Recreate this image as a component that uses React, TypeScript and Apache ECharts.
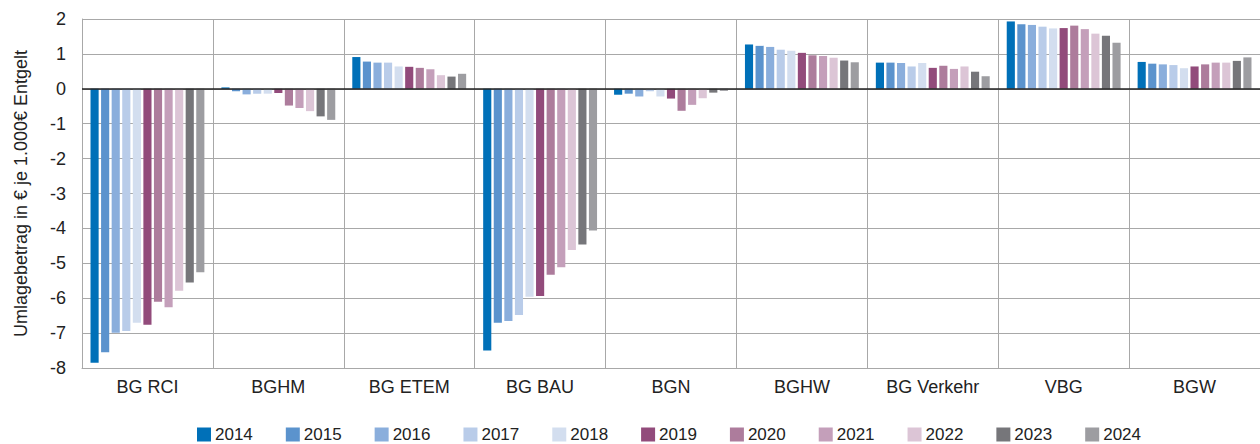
import React, { useEffect, useRef } from "react";
import * as echarts from "echarts";

const categories = ["BG RCI", "BGHM", "BG ETEM", "BG BAU", "BGN", "BGHW", "BG Verkehr", "VBG", "BGW"];
const years = ["2014", "2015", "2016", "2017", "2018", "2019", "2020", "2021", "2022", "2023", "2024"];
const colors = ["#0070b8", "#5b93cd", "#8aaedc", "#b9cce9", "#d3deef", "#924b7b", "#ad7c9c", "#c49fba", "#dcc5d6", "#76767a", "#9d9da1"];

// values per year, in category order
const v2014 = [-7.85, 0.04, 0.91, -7.5, -0.17, 1.27, 0.75, 1.93, 0.77];
const v2015 = [-7.55, -0.07, 0.78, -6.7, -0.14, 1.23, 0.75, 1.85, 0.72];
const v2016 = [-6.99, -0.16, 0.75, -6.65, -0.22, 1.2, 0.74, 1.83, 0.7];
const v2017 = [-6.94, -0.14, 0.75, -6.48, -0.07, 1.12, 0.64, 1.78, 0.68];
const v2018 = [-6.7, -0.14, 0.64, -5.96, -0.22, 1.09, 0.74, 1.73, 0.59];
const v2019 = [-6.76, -0.12, 0.63, -5.94, -0.28, 1.03, 0.6, 1.74, 0.64];
const v2020 = [-6.1, -0.48, 0.6, -5.33, -0.63, 0.96, 0.66, 1.81, 0.7];
const v2021 = [-6.26, -0.55, 0.56, -5.11, -0.46, 0.94, 0.57, 1.71, 0.75];
const v2022 = [-5.79, -0.64, 0.39, -4.62, -0.27, 0.89, 0.64, 1.58, 0.75];
const v2023 = [-5.55, -0.79, 0.35, -4.46, -0.11, 0.81, 0.49, 1.52, 0.8];
const v2024 = [-5.26, -0.89, 0.43, -4.06, -0.06, 0.76, 0.36, 1.32, 0.9];
const values = [v2014, v2015, v2016, v2017, v2018, v2019, v2020, v2021, v2022, v2023, v2024];

const yTicks = { min: -8, max: 2, interval: 1 };
const yName = "Umlagebetrag in € je 1.000€ Entgelt";

const FONT = "'Liberation Sans', Arial, Helvetica, sans-serif";
const TEXT = "#222";
const GRID = "#a8a8a8";

export default function App() {
  const ref = useRef<HTMLDivElement>(null);
  useEffect(() => {
    if (!ref.current) return;
    const chart = echarts.init(ref.current, undefined, { renderer: "svg" });
    const series: any[] = years.map((y, i) => ({
      name: y,
      type: "bar",
      data: values[i],
      barGap: "30%",
      barCategoryGap: "13%",
      itemStyle: { color: colors[i] },
      ...(i === 0
        ? {
            markLine: {
              silent: true,
              symbol: "none",
              label: { show: false },
              lineStyle: { color: "#222", type: "solid", width: 1.5 },
              data: [{ yAxis: 0 }],
            },
          }
        : {}),
    }));
    chart.setOption({
      animation: false,
      textStyle: { fontFamily: FONT },
      grid: { left: 82, right: -11, top: 19, bottom: 76, containLabel: false },
      legend: {
        data: years,
        left: 197,
        top: 426,
        padding: 0,
        itemWidth: 14,
        itemHeight: 14,
        itemGap: 33,
        icon: "rect",
        textStyle: { fontSize: 17, lineHeight: 17, color: TEXT, fontFamily: FONT, padding: [0, 0, 0, -1] },
      },
      xAxis: {
        type: "category",
        data: categories,
        axisLine: { onZero: false, lineStyle: { color: GRID, width: 1 } },
        axisTick: { show: false },
        axisLabel: { fontSize: 18, color: TEXT, margin: 10, fontFamily: FONT, interval: 0 },
        splitLine: { show: true, interval: 0, lineStyle: { color: GRID, width: 1 } },
      },
      yAxis: {
        type: "value",
        min: yTicks.min,
        max: yTicks.max,
        interval: yTicks.interval,
        name: yName,
        nameLocation: "middle",
        nameGap: 52,
        nameTextStyle: { fontSize: 18, color: TEXT, fontFamily: FONT },
        axisLine: { show: true, lineStyle: { color: GRID, width: 1 } },
        axisTick: { show: false },
        axisLabel: { fontSize: 18, color: TEXT, margin: 16, fontFamily: FONT },
        splitLine: { show: true, lineStyle: { color: GRID, width: 1 } },
      },
      series,
    });
    return () => chart.dispose();
  }, []);
  return (
    <div
      ref={ref}
      style={{ position: "fixed", left: 0, top: 0, width: 1260, height: 444, background: "#fff" }}
    />
  );
}
